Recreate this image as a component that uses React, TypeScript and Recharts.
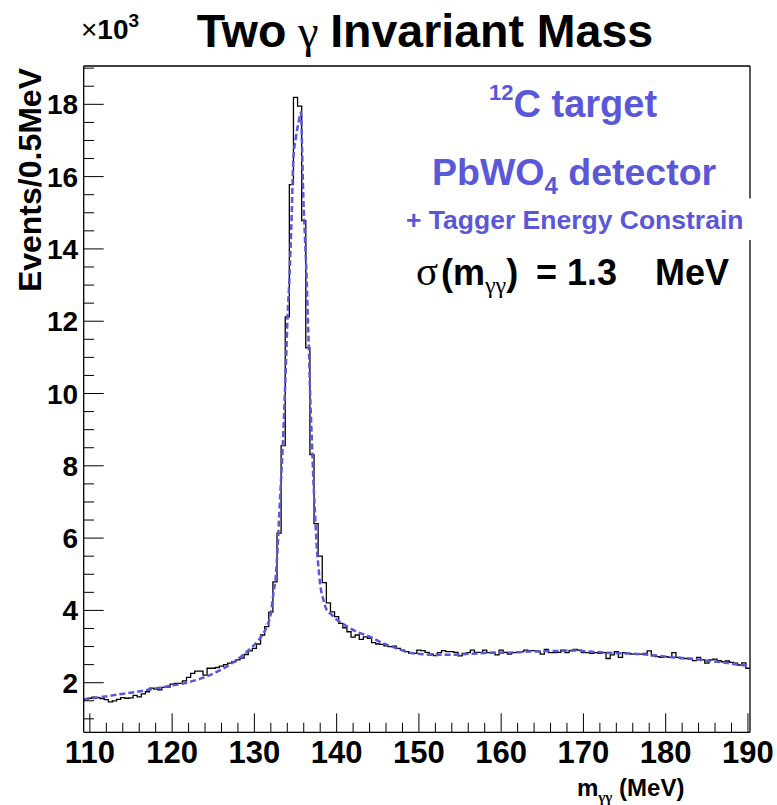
import { ComposedChart, Line, XAxis, YAxis } from 'recharts'

// histogram: 0.5 MeV bins starting at 109.25 MeV, counts in units of 10^3
const histStart = 109.25
const binWidth = 0.5
const histCounts = [
  1.54, 1.57, 1.6, 1.59, 1.56, 1.53, 1.47, 1.5, 1.54, 1.59,
  1.57, 1.58, 1.65, 1.61, 1.69, 1.75, 1.85, 1.82, 1.8, 1.87,
  1.88, 1.96, 1.98, 1.98, 2.05, 2.15, 2.26, 2.32, 2.32, 2.21,
  2.4, 2.4, 2.42, 2.46, 2.5, 2.54, 2.58, 2.63, 2.68, 2.78,
  2.88, 2.95, 3.07, 3.32, 3.55, 3.95, 4.79, 6.14, 8.56, 12.12,
  15.78, 18.19, 17.95, 14.78, 11.26, 8.31, 6.4, 5.5, 4.77, 4.21,
  3.96, 3.83, 3.64, 3.52, 3.41, 3.26, 3.32, 3.2, 3.27, 3.23,
  3.11, 3.07, 3.06, 3.02, 3.0, 3.01, 2.95, 2.9, 2.86, 2.81,
  2.81, 2.9, 2.89, 2.84, 2.79, 2.75, 2.83, 2.89, 2.86, 2.86,
  2.84, 2.74, 2.81, 2.83, 2.9, 2.84, 2.84, 2.9, 2.83, 2.84,
  2.77, 2.9, 2.84, 2.79, 2.83, 2.84, 2.86, 2.9, 2.89, 2.89,
  2.86, 2.79, 2.92, 2.83, 2.83, 2.84, 2.9, 2.83, 2.89, 2.92,
  2.9, 2.83, 2.83, 2.81, 2.83, 2.81, 2.83, 2.67, 2.77, 2.86,
  2.7, 2.83, 2.81, 2.79, 2.79, 2.79, 2.81, 2.88, 2.74, 2.72,
  2.7, 2.72, 2.7, 2.83, 2.7, 2.67, 2.67, 2.65, 2.61, 2.7,
  2.63, 2.54, 2.63, 2.65, 2.61, 2.58, 2.6, 2.56, 2.54, 2.49,
  2.55, 2.4,
]

// fitted curve (peak + background)
const fitMass = [
  109.25, 111.6, 113.65, 115.7, 117.7, 119.7, 121.6, 123.8, 125.8, 127.85,
  129.0, 130.0, 130.9, 131.5, 132.0, 132.3, 132.63, 132.83, 133.03, 133.24,
  133.44, 133.64, 133.84, 134.05, 134.25, 134.54, 134.73, 135.06, 135.34, 135.55,
  135.67, 135.79, 135.95, 136.16, 136.36, 136.48, 136.64, 136.76, 136.89, 137.05,
  137.17, 137.37, 137.58, 137.78, 137.98, 138.39, 138.79, 139.4, 140.0, 140.8,
  142.44, 144.06, 145.68, 147.31, 148.93, 150.55, 152.17, 153.8, 155.42, 157.04,
  158.66, 160.28, 161.9, 163.53, 165.15, 166.77, 168.8, 170.83, 172.86, 174.88,
  176.9, 178.94, 180.96, 183.0, 185.0, 187.04, 189.07, 190.25,
]
const fitCounts = [
  1.54, 1.61, 1.68, 1.75, 1.83, 1.91, 1.99, 2.14, 2.34, 2.63,
  2.84, 3.05, 3.3, 3.55, 3.92, 4.45, 5.03, 5.76, 6.69, 7.61,
  8.5, 9.6, 10.84, 12.22, 13.13, 14.98, 16.46, 17.1, 17.47, 17.7,
  17.78, 16.83, 15.44, 14.25, 13.14, 12.22, 11.11, 10.1, 9.27, 8.35,
  7.61, 6.69, 5.76, 5.21, 4.75, 4.29, 4.01, 3.88, 3.75, 3.62,
  3.41, 3.27, 3.09, 2.95, 2.83, 2.79, 2.77, 2.77, 2.79, 2.81,
  2.83, 2.83, 2.84, 2.86, 2.87, 2.88, 2.89, 2.86, 2.83, 2.81,
  2.79, 2.75, 2.7, 2.67, 2.61, 2.56, 2.49, 2.46,
]

const xTicks = [
  110, 112, 114, 116, 118, 120, 122, 124, 126, 128, 130, 132, 134, 136, 138, 140,
  142, 144, 146, 148, 150, 152, 154, 156, 158, 160, 162, 164, 166, 168, 170, 172,
  174, 176, 178, 180, 182, 184, 186, 188, 190,
]
const yTicks = [
  1, 1.5, 2, 2.5, 3, 3.5, 4, 4.5, 5, 5.5, 6, 6.5, 7, 7.5, 8, 8.5, 9, 9.5, 10,
  10.5, 11, 11.5, 12, 12.5, 13, 13.5, 14, 14.5, 15, 15.5, 16, 16.5, 17, 17.5,
  18, 18.5, 19,
]

const font = '"Liberation Sans", Arial, Helvetica, sans-serif'
const serif = '"Liberation Serif", "Times New Roman", serif'
const blue = '#5a58d8'

const W = 777
const H = 805
const frame = { left: 83.7, top: 66, right: 750, bottom: 732.3 }
const xAxisH = 40
const yAxisW = 60

const histData = [
  ...histCounts.map((c, i) => ({ x: histStart + i * binWidth, y: c })),
  { x: histStart + histCounts.length * binWidth, y: histCounts[histCounts.length - 1] },
]
const fitData = fitMass.map((m, i) => ({ x: m, y: fitCounts[i] }))

function XTick(props: any) {
  const { x, y, payload } = props
  const v = payload.value as number
  const major = v % 10 === 0
  return (
    <g>
      <line x1={x} x2={x} y1={y} y2={y - (major ? 19 : 9.5)} stroke="#000" strokeWidth={1} />
      {major && (
        <text x={x} y={y + 31} textAnchor="middle" fontSize={31} fontWeight="bold" fontFamily={font} fill="#000">
          {v}
        </text>
      )}
    </g>
  )
}

function YTick(props: any) {
  const { x, y, payload } = props
  const v = payload.value as number
  const major = Math.abs(v % 2) < 1e-6
  return (
    <g>
      <line x1={x} x2={x + (major ? 20 : 10.3)} y1={y} y2={y} stroke="#000" strokeWidth={1} />
      {major && (
        <text x={x - 5.5} y={y} dy="0.36em" textAnchor="end" fontSize={28} fontWeight="bold" fontFamily={font} fill="#000">
          {v}
        </text>
      )}
    </g>
  )
}

export default function App() {
  return (
    <div style={{ position: 'absolute', left: 0, top: 0, width: W, height: H, background: '#fff' }}>
      <ComposedChart
        width={W}
        height={H}
        margin={{
          top: frame.top,
          left: frame.left - yAxisW,
          right: W - frame.right,
          bottom: H - frame.bottom - xAxisH,
        }}
      >
        <XAxis
          dataKey="x"
          type="number"
          domain={[109.25, 190.25]}
          allowDataOverflow
          ticks={xTicks}
          interval={0}
          height={xAxisH}
          tickSize={0}
          tickMargin={0}
          tickLine={false}
          axisLine={{ stroke: '#000', strokeWidth: 1.3 }}
          tick={XTick}
        />
        <YAxis
          dataKey="y"
          type="number"
          domain={[0.628, 19.06]}
          allowDataOverflow
          ticks={yTicks}
          interval={0}
          width={yAxisW}
          tickSize={0}
          tickMargin={0}
          tickLine={false}
          axisLine={{ stroke: '#000', strokeWidth: 1.3 }}
          tick={YTick}
        />
        <Line
          data={histData}
          dataKey="y"
          type="stepAfter"
          stroke="#000"
          strokeWidth={1.3}
          dot={false}
          isAnimationActive={false}
        />
        <Line
          data={fitData}
          dataKey="y"
          type="monotone"
          stroke={blue}
          strokeWidth={2.5}
          strokeDasharray="6 3"
          dot={false}
          isAnimationActive={false}
        />
      </ComposedChart>

      <svg
        width={W}
        height={H}
        style={{ position: 'absolute', left: 0, top: 0, pointerEvents: 'none' }}
        fontFamily={font}
      >
        <line x1={frame.left} x2={frame.right} y1={frame.top} y2={frame.top} stroke="#000" strokeWidth={1.3} />
        <line x1={frame.right} x2={frame.right} y1={frame.top} y2={frame.bottom} stroke="#000" strokeWidth={1.3} />

        <text x={425} y={47} textAnchor="middle" fontSize={46.5} fontWeight="bold" fill="#000">
          Two
          <tspan fontFamily={serif} fontWeight="normal"> γ </tspan>
          Invariant Mass
        </text>

        <text x={81} y={39} fontSize={28} fill="#000">
          ×<tspan fontWeight="bold">10</tspan>
          <tspan fontWeight="bold" fontSize={19} dy={-12}>3</tspan>
        </text>

        <text
          transform="translate(41, 68) rotate(-90)"
          textAnchor="end"
          fontSize={32}
          fontWeight="bold"
          fill="#000"
        >
          Events/0.5MeV
        </text>

        <text x={577} y={796} fontSize={24} fontWeight="bold" fill="#000">
          m<tspan fontFamily={serif} fontSize={15} dy={6}>γγ</tspan>
          <tspan dy={-6}> (MeV)</tspan>
        </text>

        <text x={489} y={116.7} fontWeight="bold" fill={blue}>
          <tspan fontSize={22} dy={-17}>12</tspan>
          <tspan fontSize={38} dy={17}>C target</tspan>
        </text>

        <text x={432} y={185} fontWeight="bold" fill={blue} fontSize={37.5}>
          PbWO<tspan fontSize={24} dy={9}>4</tspan>
          <tspan dy={-9}> detector</tspan>
        </text>

        <rect x={403} y={198.5} width={349} height={41.5} fill="#fff" />
        <text x={406} y={229.3} fontWeight="bold" fill={blue} fontSize={26.5}>
          + Tagger Energy Constrain
        </text>

        <text x={416} y={285} fontWeight="bold" fill="#000" fontSize={36}>
          <tspan fontFamily={serif} fontWeight="normal" fontSize={41}>σ</tspan>
          <tspan x={441}>(m</tspan>
          <tspan fontFamily={serif} fontWeight="normal" fontSize={24} dy={8}>γγ</tspan>
          <tspan dy={-8}>)</tspan>
          <tspan x={536}>= 1.3</tspan>
        </text>
        <text x={655} y={285} fontWeight="bold" fill="#000" fontSize={36}>
          MeV
        </text>
      </svg>
    </div>
  )
}
